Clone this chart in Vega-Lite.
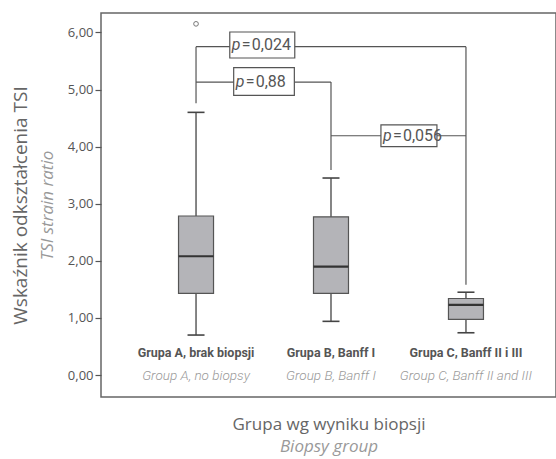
{
  "$schema": "https://vega.github.io/schema/vega-lite/v6.json",
  "width": 455,
  "height": 384,
  "autosize": {"type": "none"},
  "padding": {"left": 101, "top": 13, "right": 0, "bottom": 62},
  "config": {"view": {"stroke": "#666", "strokeWidth": 1.5}, "font": "Open Sans"},
  "datasets": {
    "boxes": [
      {"g": 1, "lo": 0.70, "q1": 1.43, "med": 2.08, "q3": 2.785, "hi": 4.60},
      {"g": 2, "lo": 0.94, "q1": 1.43, "med": 1.90, "q3": 2.77, "hi": 3.45},
      {"g": 3, "lo": 0.74, "q1": 0.975, "med": 1.23, "q3": 1.34, "hi": 1.45}
    ],
    "outliers": [{"g": 1, "v": 6.15}],
    "links": [
      {"x": 1, "x2": 3, "y": 5.75, "y2": 5.75},
      {"x": 1, "x2": 1, "y": 5.75, "y2": 4.76},
      {"x": 3, "x2": 3, "y": 5.75, "y2": 1.58},
      {"x": 1, "x2": 2, "y": 5.13, "y2": 5.13},
      {"x": 2, "x2": 2, "y": 5.13, "y2": 3.59},
      {"x": 2, "x2": 3, "y": 4.19, "y2": 4.19}
    ],
    "pvals": [
      {"x": 1.25, "y": 5.78, "p": "0,024"},
      {"x": 1.279, "y": 5.14, "p": "0,88"},
      {"x": 2.37, "y": 4.19, "p": "0,056"}
    ],
    "groups": [
      {"g": 1, "pl": "Grupa A, brak biopsji", "en": "Group A, no biopsy"},
      {"g": 2, "pl": "Grupa B, Banff I", "en": "Group B, Banff I"},
      {"g": 3, "pl": "Grupa C, Banff II i III", "en": "Group C, Banff II and III"}
    ]
  },
  "layer": [
    {
      "data": {"name": "links"},
      "mark": {"type": "rule", "color": "#555", "strokeWidth": 1.2},
      "encoding": {
        "x": {"field": "x", "type": "quantitative", "scale": {"domain": [0.333, 3.63], "nice": false, "zero": false},
          "axis": {"title": "Grupa wg wyniku biopsji", "orient": "bottom", "labels": false, "ticks": false, "domain": false, "grid": false,
            "titleFont": "Open Sans", "titleFontSize": 17, "titleFontWeight": "normal", "titleColor": "#666", "titlePadding": 19}},
        "x2": {"field": "x2"},
        "y": {"field": "y", "type": "quantitative", "scale": {"domain": [-0.385, 6.34], "nice": false, "zero": false},
          "axis": {"title": "Wskaźnik odkształcenia TSI", "orient": "left", "values": [0, 1, 2, 3, 4, 5, 6],
            "labelExpr": "replace(format(datum.value, '.2f'), '.', ',')",
            "labelFont": "Open Sans", "labelFontSize": 13, "labelColor": "#555", "labelPadding": 2,
            "tickColor": "#555", "tickSize": 6, "tickWidth": 1.2, "domain": false, "grid": false,
            "titleFont": "Open Sans", "titleFontSize": 19, "titleFontWeight": "normal", "titleColor": "#666", "titlePadding": 37}},
        "y2": {"field": "y2"}
      }
    },
    {
      "data": {"name": "boxes"},
      "mark": {"type": "rule", "color": "#444", "strokeWidth": 1.3},
      "encoding": {
        "x": {"field": "g", "type": "quantitative", "scale": {"domain": [0.333, 3.63], "nice": false, "zero": false},
          "axis": {"title": "Biopsy group", "orient": "bottom", "labels": false, "ticks": false, "domain": false, "grid": false,
            "titleFont": "Open Sans", "titleFontSize": 17, "titleFontStyle": "italic", "titleFontWeight": "normal", "titleColor": "#999", "titlePadding": 41}},
        "y": {"field": "lo", "type": "quantitative", "scale": {"domain": [-0.385, 6.34], "nice": false, "zero": false},
          "axis": {"title": "TSI strain ratio", "orient": "left", "labels": false, "ticks": false, "domain": false, "grid": false,
            "titleFont": "Open Sans", "titleFontSize": 17, "titleFontStyle": "italic", "titleFontWeight": "normal", "titleColor": "#999", "titlePadding": 45}},
        "y2": {"field": "hi"}
      }
    },
    {
      "data": {"name": "boxes"},
      "mark": {"type": "bar", "orient": "vertical", "size": 35, "fill": "#b4b4b8", "stroke": "#555", "strokeWidth": 1.2},
      "encoding": {
        "x": {"field": "g", "type": "quantitative", "scale": {"domain": [0.333, 3.63], "nice": false, "zero": false}, "axis": null},
        "y": {"field": "q1", "type": "quantitative", "scale": {"domain": [-0.385, 6.34], "nice": false, "zero": false}, "axis": null},
        "y2": {"field": "q3"}
      }
    },
    {
      "data": {"name": "boxes"},
      "mark": {"type": "tick", "orient": "horizontal", "size": 35, "thickness": 2.2, "color": "#333", "opacity": 1},
      "encoding": {
        "x": {"field": "g", "type": "quantitative", "scale": {"domain": [0.333, 3.63], "nice": false, "zero": false}, "axis": null},
        "y": {"field": "med", "type": "quantitative", "scale": {"domain": [-0.385, 6.34], "nice": false, "zero": false}, "axis": null}
      }
    },
    {
      "data": {"name": "boxes"},
      "mark": {"type": "tick", "orient": "horizontal", "size": 17, "thickness": 1.6, "color": "#444", "opacity": 1},
      "encoding": {
        "x": {"field": "g", "type": "quantitative", "scale": {"domain": [0.333, 3.63], "nice": false, "zero": false}, "axis": null},
        "y": {"field": "lo", "type": "quantitative", "scale": {"domain": [-0.385, 6.34], "nice": false, "zero": false}, "axis": null}
      }
    },
    {
      "data": {"name": "boxes"},
      "mark": {"type": "tick", "orient": "horizontal", "size": 17, "thickness": 1.6, "color": "#444", "opacity": 1},
      "encoding": {
        "x": {"field": "g", "type": "quantitative", "scale": {"domain": [0.333, 3.63], "nice": false, "zero": false}, "axis": null},
        "y": {"field": "hi", "type": "quantitative", "scale": {"domain": [-0.385, 6.34], "nice": false, "zero": false}, "axis": null}
      }
    },
    {
      "data": {"name": "outliers"},
      "mark": {"type": "point", "shape": "circle", "size": 22, "filled": false, "stroke": "#777", "strokeWidth": 1, "opacity": 1},
      "encoding": {
        "x": {"field": "g", "type": "quantitative", "scale": {"domain": [0.333, 3.63], "nice": false, "zero": false}, "axis": null},
        "y": {"field": "v", "type": "quantitative", "scale": {"domain": [-0.385, 6.34], "nice": false, "zero": false}, "axis": null}
      }
    },
    {
      "data": {"name": "pvals"},
      "mark": {"type": "point", "filled": true, "fill": "white", "stroke": "#555", "strokeWidth": 1.2, "opacity": 1, "fillOpacity": 1},
      "encoding": {
        "x": {"field": "x", "type": "quantitative", "scale": {"domain": [0.333, 3.63], "nice": false, "zero": false}, "axis": null},
        "y": {"field": "y", "type": "quantitative", "scale": {"domain": [-0.385, 6.34], "nice": false, "zero": false}, "axis": null},
        "shape": {"field": "p", "type": "nominal", "legend": null,
          "scale": {"domain": ["0,024", "0,88", "0,056"], "range": ["M0,-0.4H2V0.4H0Z", "M0,-0.455H2V0.455H0Z", "M0,-0.39H2V0.39H0Z"]}},
        "size": {"field": "p", "type": "nominal", "legend": null,
          "scale": {"domain": ["0,024", "0,88", "0,056"], "range": [4225, 3136, 4225]}}
      }
    },
    {
      "data": {"name": "pvals"},
      "mark": {"type": "text", "align": "left", "baseline": "middle", "dx": 2, "font": "Roboto", "fontSize": 16, "fontStyle": "italic", "color": "#555"},
      "encoding": {
        "x": {"field": "x", "type": "quantitative", "scale": {"domain": [0.333, 3.63], "nice": false, "zero": false}, "axis": null},
        "y": {"field": "y", "type": "quantitative", "scale": {"domain": [-0.385, 6.34], "nice": false, "zero": false}, "axis": null},
        "text": {"value": "p"}
      }
    },
    {
      "data": {"name": "pvals"},
      "mark": {"type": "text", "align": "left", "baseline": "middle", "dx": 12, "font": "Roboto", "fontSize": 16, "color": "#555"},
      "encoding": {
        "x": {"field": "x", "type": "quantitative", "scale": {"domain": [0.333, 3.63], "nice": false, "zero": false}, "axis": null},
        "y": {"field": "y", "type": "quantitative", "scale": {"domain": [-0.385, 6.34], "nice": false, "zero": false}, "axis": null},
        "text": {"value": "="}
      }
    },
    {
      "data": {"name": "pvals"},
      "mark": {"type": "text", "align": "left", "baseline": "middle", "dx": 22, "font": "Roboto", "fontSize": 16, "color": "#555"},
      "encoding": {
        "x": {"field": "x", "type": "quantitative", "scale": {"domain": [0.333, 3.63], "nice": false, "zero": false}, "axis": null},
        "y": {"field": "y", "type": "quantitative", "scale": {"domain": [-0.385, 6.34], "nice": false, "zero": false}, "axis": null},
        "text": {"field": "p"}
      }
    },
    {
      "data": {"name": "groups"},
      "mark": {"type": "text", "align": "center", "baseline": "middle", "font": "Roboto", "fontSize": 12.5, "fontWeight": "bold", "color": "#555"},
      "encoding": {
        "x": {"field": "g", "type": "quantitative", "scale": {"domain": [0.333, 3.63], "nice": false, "zero": false}, "axis": null},
        "y": {"datum": 0.385, "type": "quantitative", "scale": {"domain": [-0.385, 6.34], "nice": false, "zero": false}, "axis": null},
        "text": {"field": "pl"}
      }
    },
    {
      "data": {"name": "groups"},
      "mark": {"type": "text", "align": "center", "baseline": "middle", "font": "Roboto", "fontSize": 13.5, "fontStyle": "italic", "fontWeight": 300, "color": "#999"},
      "encoding": {
        "x": {"field": "g", "type": "quantitative", "scale": {"domain": [0.333, 3.63], "nice": false, "zero": false}, "axis": null},
        "y": {"datum": -0.02, "type": "quantitative", "scale": {"domain": [-0.385, 6.34], "nice": false, "zero": false}, "axis": null},
        "text": {"field": "en"}
      }
    }
  ],
  "resolve": {"axis": {"x": "independent", "y": "independent"}}
}
